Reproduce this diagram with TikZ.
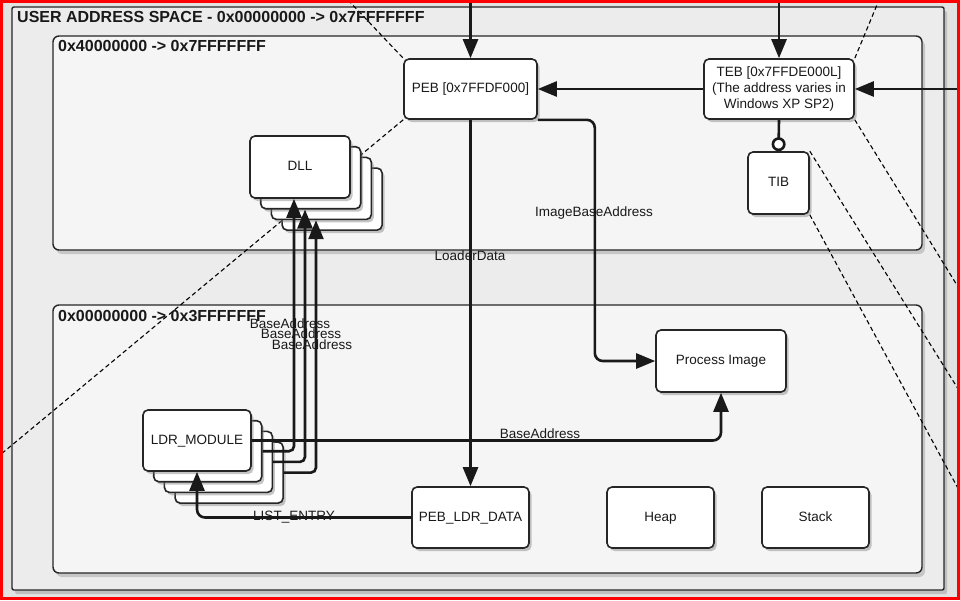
\documentclass[tikz,border=0pt]{standalone}
\usepackage{fontspec}
\setmainfont{Liberation Sans}
\usetikzlibrary{arrows.meta,shadows}
\pgfdeclarelayer{bg}
\pgfsetlayers{bg,main}
\definecolor{bgc}{HTML}{E2E2E2}
\definecolor{outerc}{HTML}{ECECEC}
\definecolor{areac}{HTML}{F5F5F5}
\begin{document}
\begin{tikzpicture}[x=1pt,y=-1pt,
  every node/.style={font=\fontsize{13.5}{16}\selectfont, text=black!90},
  box/.style={draw=black!85, line width=1.6pt, fill=white, rounded corners=5pt, inner sep=0pt, align=center,
    text height=9.5pt, text depth=2.5pt,
    drop shadow={shadow xshift=2.5pt, shadow yshift=-3pt, opacity=0.45}},
  area/.style={draw=black!85, line width=1.4pt, fill=areac, rounded corners=6pt,
    drop shadow={shadow xshift=3pt, shadow yshift=-4pt, opacity=0.35}},
  conn/.style={line width=2.6pt, draw=black!90},
  arr/.style={conn, -{Triangle[length=19pt,width=15pt]}},
  zoomline/.style={draw=black, line width=1.1pt, dash pattern=on 4.5pt off 3pt},
  title/.style={font=\fontsize{16}{19}\selectfont\bfseries, anchor=base west, inner sep=0pt},
  lbl/.style={inner sep=0pt},
]
\useasboundingbox (0,0) rectangle (960,600);

% titles
\node[title] (t0) at (17,22.7) {USER ADDRESS SPACE - 0x00000000 -> 0x7FFFFFFF};
\node[title] (t1) at (58,51.5) {0x40000000 -> 0x7FFFFFFF};
\node[title] (t2) at (58,321) {0x00000000 -> 0x3FFFFFFF};

% nodes
\node[box, minimum width=133pt, minimum height=60pt] (peb) at (470.5,89) {PEB [0x7FFDF000]};
\node[box, minimum width=150pt, minimum height=60pt, text height=, text depth=] (teb) at (779,89) {TEB [0x7FFDE000L]\\(The address varies in\\Windows XP SP2)};
\node[box, minimum width=61pt, minimum height=62pt] (tib) at (778.5,183) {TIB};

\node[box, minimum width=100pt, minimum height=62pt] (dll3) at (332.1,199.1) {};
\node[box, minimum width=100pt, minimum height=62pt] (dll2) at (321.4,188.4) {};
\node[box, minimum width=100pt, minimum height=62pt] (dll1) at (310.7,177.7) {};
\node[box, minimum width=100pt, minimum height=62pt] (dll0) at (300,167) {DLL};

\node[box, minimum width=108pt, minimum height=61pt] (ldr3) at (229.1,472.6) {};
\node[box, minimum width=108pt, minimum height=61pt] (ldr2) at (218.4,461.9) {};
\node[box, minimum width=108pt, minimum height=61pt] (ldr1) at (207.7,451.2) {};
\node[box, minimum width=108pt, minimum height=61pt] (ldr0) at (197,440.5) {LDR\_MODULE};

\node[box, minimum width=130pt, minimum height=62pt] (img) at (721,361) {Process Image};
\node[box, minimum width=117pt, minimum height=61pt] (pld) at (470.5,517.5) {PEB\_LDR\_DATA};
\node[box, minimum width=107pt, minimum height=61pt] (heap) at (660.5,517.5) {Heap};
\node[box, minimum width=107pt, minimum height=61pt] (stack) at (815.5,517.5) {Stack};

% free ends
\coordinate (inpeb) at (470.5,0);
\coordinate (inteb) at (779,0);
\coordinate (inright) at (960,89);
\coordinate (d1) at (348,0);
\coordinate (d2) at (0,455);
\coordinate (d3) at (879,0);
\coordinate (d4) at (960,290);
\coordinate (d5) at (960,392);
\coordinate (d6) at (960,492);

% connectors
\draw[arr] (inpeb) -- (peb.north);
\draw[arr] (inteb) -- (teb.north);
\draw[arr] (inright) -- (teb.east);
\draw[arr] (teb.west) -- (peb.east);
\draw[conn, -{Circle[open,length=14pt,fill=white]}] (teb.south) -- (tib.north);
\draw[arr] (peb.south) -- (pld.north);
\node[lbl] (lLoader) at (470,256) {LoaderData};
\draw[arr, rounded corners=8pt] (peb.south east) -- ++(57,0) |- (img.west);
\node[lbl] (lImg) at (594,213) {ImageBaseAddress};
\draw[arr, rounded corners=8pt] (ldr0.east) -| (img.south);
\node[lbl] (lBase) at (540,434) {BaseAddress};
\draw[arr, rounded corners=8pt] (pld.west) -| (ldr0.south);
\node[lbl] (lList) at (294,517) {LIST\_ENTRY};
\draw[arr, rounded corners=5pt] (ldr1.east) -| ([xshift=-6pt]dll0.south);
\draw[arr, rounded corners=5pt] (ldr2.east) -| ([xshift=-5.7pt]dll1.south);
\draw[arr, rounded corners=5pt] (ldr3.east) -| ([xshift=-5.4pt]dll2.south);
\node[lbl] (lb1) at (290,324) {BaseAddress};
\node[lbl] (lb2) at (301,334) {BaseAddress};
\node[lbl] (lb3) at (312,345) {BaseAddress};

% background layer
\begin{pgfonlayer}{bg}
\fill[bgc] (0,0) rectangle (960,600);
\path[area, fill=outerc, rounded corners=2pt] (12,7) rectangle (944,590);
\path[area] (53,36) rectangle (922,250);
\path[area] (53,305) rectangle (922,573);
\draw[zoomline] (d1) -- (peb.north west);
\draw[zoomline] (peb.south west) -- (d2);
\draw[zoomline] (teb.north east) -- (d3);
\draw[zoomline] (teb.south east) -- (d4);
\draw[zoomline] (tib.north east) -- (d5);
\draw[zoomline] (tib.south east) -- (d6);
\end{pgfonlayer}

\draw[red, line width=3pt] (1.5,1.5) rectangle (958.5,598.5);
\end{tikzpicture}
\end{document}
